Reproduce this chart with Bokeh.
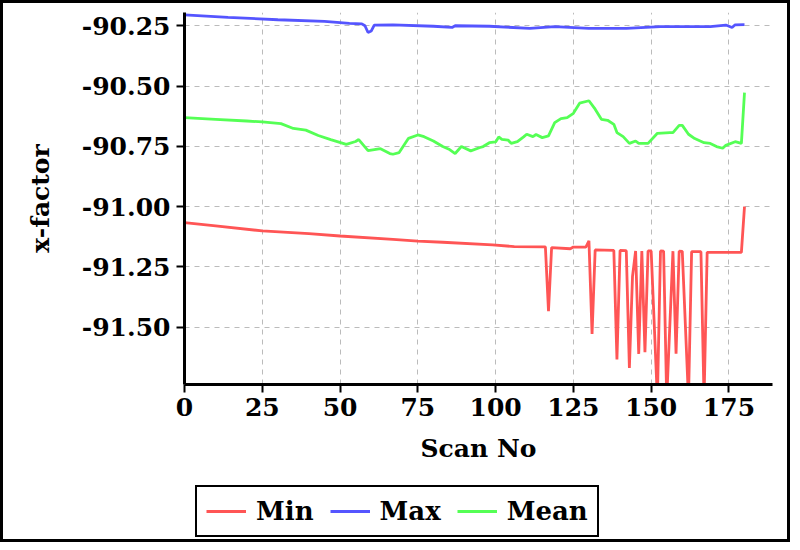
from bokeh.plotting import figure
from bokeh.layouts import column
from bokeh.models import Legend, LegendItem, FixedTicker, NumeralTickFormatter, Range1d
from bokeh.embed import file_html
from bokeh.resources import INLINE

# ---- data ----
min_x = [0, 10, 25, 40, 50, 67, 75, 83, 99, 106,
         116, 117, 118, 124, 125, 129, 130, 131, 132, 138,
         139, 140, 142, 143, 144, 145, 146, 147, 148, 149,
         150, 152, 153, 154, 155, 157, 158, 159, 160, 162,
         163, 166, 167, 168, 179, 180]
min_y = [-91.067, -91.080, -91.101, -91.112, -91.122, -91.136, -91.143, -91.148, -91.159, -91.166,
         -91.167, -91.434, -91.170, -91.175, -91.168, -91.168, -91.142, -91.528, -91.180, -91.182,
         -91.634, -91.182, -91.183, -91.669, -91.290, -91.184, -91.611, -91.184, -91.604, -91.184,
         -91.184, -91.800, -91.184, -91.185, -91.800, -91.185, -91.610, -91.185, -91.186, -91.800,
         -91.187, -91.187, -91.800, -91.190, -91.190, -91.000]

max_x = [0, 14, 30, 45, 53, 57, 58, 59, 60, 61, 67, 80, 86, 87, 98, 111, 119, 130, 142, 153,
         169, 174, 176, 177, 180]
max_y = [-90.205, -90.215, -90.225, -90.232, -90.240, -90.242, -90.250, -90.278, -90.272, -90.247,
         -90.246, -90.252, -90.257, -90.250, -90.252, -90.261, -90.254, -90.261, -90.261, -90.254,
         -90.254, -90.247, -90.257, -90.246, -90.245]

mean_x = [0, 10, 20, 25, 31, 35, 39, 43, 47, 52,
          55, 56, 59, 63, 66, 67, 69, 72, 75, 77,
          80, 83, 85, 87, 89, 92, 95, 96, 98, 100,
          101, 102, 104, 105, 107, 109, 110, 112, 113, 115,
          117, 119, 121, 123, 125, 127, 130, 132, 134, 136,
          138, 139, 141, 143, 145, 146, 149, 152, 156, 157,
          159, 160, 162, 164, 167, 169, 171, 173, 174, 177,
          179, 180]
mean_y = [-90.631, -90.638, -90.645, -90.649, -90.656, -90.676, -90.683, -90.705, -90.722, -90.742,
          -90.730, -90.722, -90.768, -90.760, -90.780, -90.783, -90.776, -90.717, -90.703, -90.710,
          -90.728, -90.751, -90.762, -90.780, -90.751, -90.769, -90.755, -90.751, -90.735, -90.732,
          -90.711, -90.721, -90.724, -90.738, -90.731, -90.711, -90.700, -90.710, -90.701, -90.714,
          -90.707, -90.652, -90.635, -90.631, -90.613, -90.571, -90.561, -90.596, -90.638, -90.642,
          -90.659, -90.693, -90.710, -90.738, -90.728, -90.738, -90.738, -90.696, -90.693, -90.693,
          -90.663, -90.663, -90.700, -90.718, -90.735, -90.738, -90.751, -90.758, -90.746, -90.731,
          -90.738, -90.527]

x_ticks = [0, 25, 50, 75, 100, 125, 150, 175]
y_ticks = [-91.50, -91.25, -91.00, -90.75, -90.50, -90.25]
series_names = ["Min", "Max", "Mean"]
series_colors = ["#ff5555", "#5555ff", "#55ff55"]

FONT = "DejaVu Serif"
LW = 2.8

p = figure(width=784, height=480,
           x_range=Range1d(0, 189), y_range=Range1d(-91.738, -90.195),
           output_backend="svg", toolbar_location=None,
           min_border_left=181, min_border_right=15, min_border_top=9, min_border_bottom=99)
p.outline_line_color = None

p.line(min_x, min_y, line_color=series_colors[0], line_width=LW)
p.line(max_x, max_y, line_color=series_colors[1], line_width=LW)
p.line(mean_x, mean_y, line_color=series_colors[2], line_width=LW)

p.xaxis.ticker = FixedTicker(ticks=x_ticks)
p.yaxis.ticker = FixedTicker(ticks=y_ticks)
p.yaxis.formatter = NumeralTickFormatter(format="0.00")

for ax in (p.xaxis[0], p.yaxis[0]):
    ax.axis_line_width = 3
    ax.axis_line_color = "black"
    ax.major_tick_line_width = 2
    ax.major_tick_out = 8
    ax.major_tick_in = 0
    ax.minor_tick_out = 0
    ax.minor_tick_in = 0
    ax.major_label_text_font = FONT
    ax.major_label_text_font_style = "bold"
    ax.major_label_text_font_size = "25px"
    ax.major_label_text_color = "black"
    ax.axis_label_text_font = FONT
    ax.axis_label_text_font_style = "bold"
    ax.axis_label_text_font_size = "25px"
    ax.axis_label_text_color = "black"

p.xaxis.axis_label = "Scan No"
p.yaxis.axis_label = "x-factor"
p.xaxis.major_label_standoff = 5
p.xaxis.axis_label_standoff = 15
p.yaxis.major_label_standoff = 6
p.yaxis.axis_label_standoff = 24

for g in (p.xgrid[0], p.ygrid[0]):
    g.grid_line_color = "#bbbbbb"
    g.grid_line_dash = "5 5"
    g.grid_line_width = 1

# legend strip below the chart (its frame is aligned with the chart's frame)
p2 = figure(width=784, height=56, x_range=Range1d(0, 1), y_range=Range1d(0, 1),
            x_axis_type=None, y_axis_type=None,
            output_backend="svg", toolbar_location=None, min_border=0)
p2.outline_line_color = None
p2.grid.visible = False
lr = [p2.line([-5, -4], [-5, -4], line_color=c, line_width=LW) for c in series_colors]

legend = Legend(items=[LegendItem(label=n, renderers=[r]) for n, r in zip(series_names, lr)],
                orientation="horizontal", location=(11, 2))
legend.border_line_color = "black"
legend.border_line_alpha = 1
legend.border_line_width = 2
legend.background_fill_color = "white"
legend.background_fill_alpha = 1
legend.label_text_font = FONT
legend.label_text_font_style = "bold"
legend.label_text_font_size = "26px"
legend.label_text_color = "black"
legend.glyph_width = 40
legend.label_standoff = 10
legend.spacing = 16
legend.padding = 9
legend.margin = 0
p2.add_layout(legend, "center")

layout = column(p, p2, spacing=0, styles={"border": "3px solid black"})

open("out.html", "w").write(file_html(layout, INLINE))
